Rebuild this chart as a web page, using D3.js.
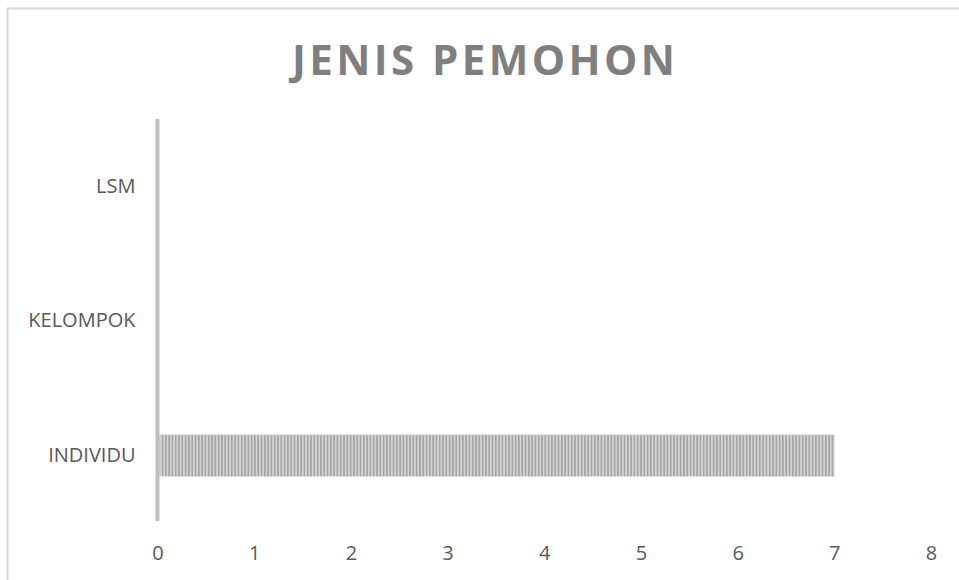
<!DOCTYPE html>
<html>
<head>
<meta charset="utf-8">
<script src="https://cdn.jsdelivr.net/npm/d3@7"></script>
<style>
  body { margin: 0; background: #fff; }
  svg { display: block; font-family: "Open Sans", sans-serif; }
</style>
</head>
<body>
<svg width="959" height="580"></svg>
<script>
// data
var categories = ["INDIVIDU", "KELOMPOK", "LSM"];
var values = [7, 0, 0];
var xTicks = [0, 1, 2, 3, 4, 5, 6, 7, 8];
var title = "JENIS PEMOHON";

var svg = d3.select("svg");

// outer chart border (runs off the right and bottom edge)
svg.append("rect")
  .attr("x", 7.5).attr("y", 8.5)
  .attr("width", 970).attr("height", 590)
  .attr("fill", "#fff")
  .attr("stroke", "#d9d9d9")
  .attr("stroke-width", 2);

// striped fill for the bar
var defs = svg.append("defs");
var pat = defs.append("pattern")
  .attr("id", "stripes")
  .attr("patternUnits", "userSpaceOnUse")
  .attr("width", 3.3).attr("height", 10);
pat.append("rect").attr("width", 3.3).attr("height", 10).attr("fill", "#d4d4d4");
pat.append("rect").attr("width", 1.6).attr("height", 10).attr("fill", "#a3a3a3");

var x = d3.scaleLinear()
  .domain([0, 8])
  .range([157.5, 931]);

var y = d3.scaleBand()
  .domain(categories.slice().reverse())
  .range([119, 523])
  .paddingInner(0.69)
  .paddingOuter(0.345);

// title
svg.append("text")
  .attr("x", 292).attr("y", 75)
  .attr("font-size", 42)
  .attr("font-weight", "bold")
  .attr("fill", "#7f7f7f")
  .attr("textLength", 383)
  .attr("lengthAdjust", "spacing")
  .text(title);

// bars
svg.append("g")
  .selectAll("rect")
  .data(categories.map(function(c, i) { return {name: c, value: values[i]}; }))
  .enter().append("rect")
  .attr("x", x(0) + 2)
  .attr("y", function(d) { return y(d.name); })
  .attr("width", function(d) { return Math.max(0, x(d.value) - x(0) - 2); })
  .attr("height", y.bandwidth())
  .attr("fill", "url(#stripes)")
  .attr("stroke", "#e0e0e0")
  .attr("stroke-width", 0.6);

// y axis (category labels + line)
var yAxis = svg.append("g")
  .attr("transform", "translate(" + x(0) + ",0)")
  .call(d3.axisLeft(y).tickSize(0).tickPadding(22));
yAxis.select(".domain")
  .attr("stroke", "#bfbfbf")
  .attr("stroke-width", 4)
  .attr("d", "M0,119V521");
yAxis.selectAll("text")
  .attr("font-size", 20)
  .attr("font-family", "Open Sans, sans-serif")
  .attr("fill", "#595959");

// x axis (labels only)
var xAxis = svg.append("g")
  .attr("transform", "translate(0,560)")
  .call(d3.axisBottom(x).tickValues(xTicks).tickSize(0).tickPadding(0));
xAxis.select(".domain").remove();
xAxis.selectAll("text")
  .attr("dy", 0)
  .attr("font-size", 20)
  .attr("font-family", "Open Sans, sans-serif")
  .attr("fill", "#595959");
</script>
</body>
</html>
